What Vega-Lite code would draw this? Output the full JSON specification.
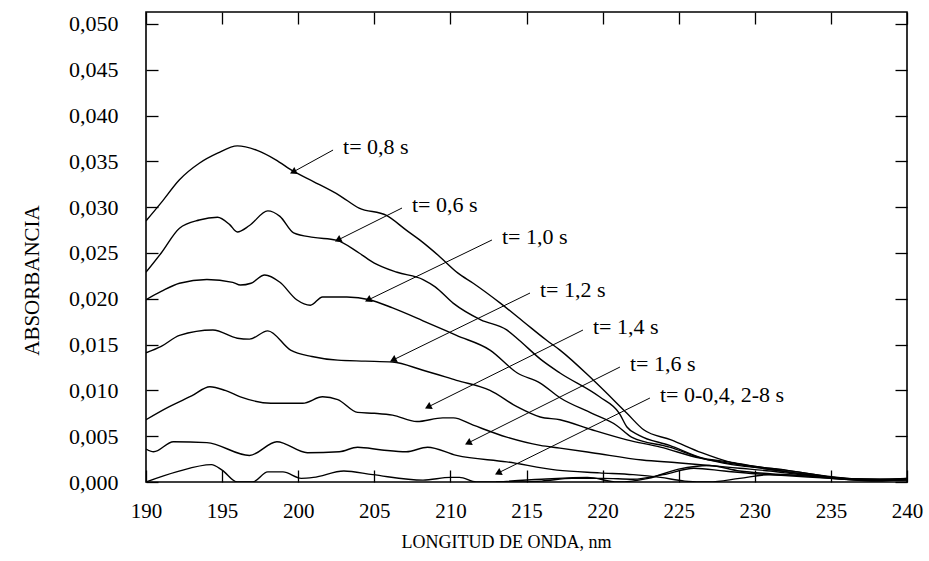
{
  "$schema": "https://vega.github.io/schema/vega-lite/v6.json",
  "width": 761,
  "height": 470,
  "autosize": "none",
  "padding": {"left": 146, "top": 12, "right": 22, "bottom": 79},
  "background": "white",
  "config": {
    "font": "Liberation Serif",
    "view": {"stroke": "black", "strokeWidth": 1.6},
    "axis": {
      "domain": false, "tickColor": "black", "tickWidth": 1.3, "tickSize": 12, "offset": -12,
      "grid": false, "labelColor": "black", "titleColor": "black",
      "labelFont": "Liberation Serif", "titleFont": "Liberation Serif",
      "labelFontSize": 21, "titleFontSize": 19, "titleFontWeight": "normal"
    }
  },
  "datasets": {
    "curves": [
      {"s":"0.8","x":190,"y":0.0285},{"s":"0.8","x":191,"y":0.0305},{"s":"0.8","x":192.2,"y":0.0330},{"s":"0.8","x":193.5,"y":0.0348},{"s":"0.8","x":194.7,"y":0.0359},{"s":"0.8","x":196,"y":0.0367},{"s":"0.8","x":197.3,"y":0.0362},{"s":"0.8","x":198.5,"y":0.0352},{"s":"0.8","x":199.7,"y":0.0339},{"s":"0.8","x":201,"y":0.0328},{"s":"0.8","x":202.7,"y":0.0313},{"s":"0.8","x":204,"y":0.0299},{"s":"0.8","x":205.8,"y":0.0291},{"s":"0.8","x":207.1,"y":0.0275},{"s":"0.8","x":208,"y":0.0264},{"s":"0.8","x":209.3,"y":0.0246},{"s":"0.8","x":210.5,"y":0.0228},{"s":"0.8","x":211.5,"y":0.0217},{"s":"0.8","x":213.3,"y":0.0195},{"s":"0.8","x":214.8,"y":0.0175},{"s":"0.8","x":216.3,"y":0.0155},{"s":"0.8","x":217.2,"y":0.0144},{"s":"0.8","x":219.4,"y":0.0111},{"s":"0.8","x":221.6,"y":0.0075},{"s":"0.8","x":222.7,"y":0.0057},{"s":"0.8","x":224.5,"y":0.0046},{"s":"0.8","x":226.5,"y":0.0032},{"s":"0.8","x":228.3,"y":0.0022},{"s":"0.8","x":230.5,"y":0.0016},{"s":"0.8","x":232,"y":0.0013},{"s":"0.8","x":234,"y":0.0008},{"s":"0.8","x":236,"y":0.0004},{"s":"0.8","x":238,"y":0.0002},{"s":"0.8","x":240,"y":0.0003},
      {"s":"0.6","x":190,"y":0.0229},{"s":"0.6","x":191,"y":0.0250},{"s":"0.6","x":192.2,"y":0.0277},{"s":"0.6","x":193.5,"y":0.0286},{"s":"0.6","x":194.7,"y":0.0289},{"s":"0.6","x":195.5,"y":0.0281},{"s":"0.6","x":196,"y":0.0273},{"s":"0.6","x":196.8,"y":0.0280},{"s":"0.6","x":198,"y":0.0296},{"s":"0.6","x":198.8,"y":0.0290},{"s":"0.6","x":199.7,"y":0.0272},{"s":"0.6","x":201,"y":0.0267},{"s":"0.6","x":202.5,"y":0.0264},{"s":"0.6","x":204,"y":0.0250},{"s":"0.6","x":205,"y":0.0239},{"s":"0.6","x":206.5,"y":0.0229},{"s":"0.6","x":208.2,"y":0.0221},{"s":"0.6","x":209,"y":0.0213},{"s":"0.6","x":210.2,"y":0.0195},{"s":"0.6","x":212,"y":0.0177},{"s":"0.6","x":213.7,"y":0.0166},{"s":"0.6","x":214.5,"y":0.0155},{"s":"0.6","x":216,"y":0.0133},{"s":"0.6","x":217.2,"y":0.0119},{"s":"0.6","x":219.8,"y":0.0093},{"s":"0.6","x":221.1,"y":0.0075},{"s":"0.6","x":221.6,"y":0.0060},{"s":"0.6","x":222.4,"y":0.0051},{"s":"0.6","x":224.4,"y":0.0040},{"s":"0.6","x":226.6,"y":0.0026},{"s":"0.6","x":228.3,"y":0.0022},{"s":"0.6","x":230,"y":0.0017},{"s":"0.6","x":232,"y":0.0013},{"s":"0.6","x":234,"y":0.0008},{"s":"0.6","x":236,"y":0.0003},{"s":"0.6","x":238,"y":0.0002},{"s":"0.6","x":240,"y":0.0004},
      {"s":"1.0","x":190,"y":0.0199},{"s":"1.0","x":191,"y":0.0208},{"s":"1.0","x":192.2,"y":0.0217},{"s":"1.0","x":194,"y":0.0221},{"s":"1.0","x":195.7,"y":0.0218},{"s":"1.0","x":196.2,"y":0.0215},{"s":"1.0","x":196.9,"y":0.0217},{"s":"1.0","x":197.8,"y":0.0226},{"s":"1.0","x":198.8,"y":0.0218},{"s":"1.0","x":199.9,"y":0.0199},{"s":"1.0","x":200.8,"y":0.0193},{"s":"1.0","x":201.6,"y":0.0202},{"s":"1.0","x":203.2,"y":0.0202},{"s":"1.0","x":204.7,"y":0.0199},{"s":"1.0","x":206.2,"y":0.0190},{"s":"1.0","x":208.2,"y":0.0176},{"s":"1.0","x":210.4,"y":0.0160},{"s":"1.0","x":212.6,"y":0.0144},{"s":"1.0","x":214.4,"y":0.0119},{"s":"1.0","x":215.9,"y":0.0108},{"s":"1.0","x":217.2,"y":0.0092},{"s":"1.0","x":219.3,"y":0.0075},{"s":"1.0","x":220.9,"y":0.0062},{"s":"1.0","x":221.9,"y":0.0049},{"s":"1.0","x":224.4,"y":0.0038},{"s":"1.0","x":226.5,"y":0.0026},{"s":"1.0","x":228.5,"y":0.0019},{"s":"1.0","x":230.5,"y":0.0015},{"s":"1.0","x":233,"y":0.0009},{"s":"1.0","x":236,"y":0.0003},{"s":"1.0","x":238,"y":0.0001},{"s":"1.0","x":240,"y":0.0003},
      {"s":"1.2","x":190,"y":0.0141},{"s":"1.2","x":191,"y":0.0148},{"s":"1.2","x":192.2,"y":0.0160},{"s":"1.2","x":194.4,"y":0.0166},{"s":"1.2","x":196,"y":0.0157},{"s":"1.2","x":196.8,"y":0.0156},{"s":"1.2","x":198,"y":0.0165},{"s":"1.2","x":199.5,"y":0.0144},{"s":"1.2","x":200.9,"y":0.0137},{"s":"1.2","x":202.6,"y":0.0133},{"s":"1.2","x":204.4,"y":0.0132},{"s":"1.2","x":206.2,"y":0.0131},{"s":"1.2","x":208.2,"y":0.0122},{"s":"1.2","x":210.4,"y":0.0111},{"s":"1.2","x":212.6,"y":0.0100},{"s":"1.2","x":214.4,"y":0.0082},{"s":"1.2","x":215.9,"y":0.0071},{"s":"1.2","x":217.2,"y":0.0068},{"s":"1.2","x":219.3,"y":0.0057},{"s":"1.2","x":221.6,"y":0.0046},{"s":"1.2","x":223.8,"y":0.0038},{"s":"1.2","x":226.4,"y":0.0026},{"s":"1.2","x":228.5,"y":0.0020},{"s":"1.2","x":230.5,"y":0.0015},{"s":"1.2","x":233,"y":0.0009},{"s":"1.2","x":236,"y":0.0004},{"s":"1.2","x":240,"y":0.0002},
      {"s":"1.4","x":190,"y":0.0068},{"s":"1.4","x":191.5,"y":0.0082},{"s":"1.4","x":193,"y":0.0094},{"s":"1.4","x":194.2,"y":0.0104},{"s":"1.4","x":195.2,"y":0.0100},{"s":"1.4","x":196.2,"y":0.0093},{"s":"1.4","x":198.2,"y":0.0086},{"s":"1.4","x":200.3,"y":0.0086},{"s":"1.4","x":201.6,"y":0.0093},{"s":"1.4","x":202.6,"y":0.0090},{"s":"1.4","x":203.9,"y":0.0076},{"s":"1.4","x":205,"y":0.0075},{"s":"1.4","x":206.2,"y":0.0073},{"s":"1.4","x":207.8,"y":0.0066},{"s":"1.4","x":209.5,"y":0.0070},{"s":"1.4","x":210.2,"y":0.0070},{"s":"1.4","x":211.5,"y":0.0062},{"s":"1.4","x":213.7,"y":0.0049},{"s":"1.4","x":215.9,"y":0.0040},{"s":"1.4","x":217.2,"y":0.0037},{"s":"1.4","x":219.3,"y":0.0032},{"s":"1.4","x":222.6,"y":0.0024},{"s":"1.4","x":224.9,"y":0.0021},{"s":"1.4","x":227,"y":0.0018},{"s":"1.4","x":229,"y":0.0015},{"s":"1.4","x":231,"y":0.0012},{"s":"1.4","x":233,"y":0.0008},{"s":"1.4","x":236,"y":0.0004},{"s":"1.4","x":240,"y":0.0002},
      {"s":"1.6","x":190,"y":0.0036},{"s":"1.6","x":190.5,"y":0.0033},{"s":"1.6","x":191.8,"y":0.0044},{"s":"1.6","x":194,"y":0.0043},{"s":"1.6","x":196.8,"y":0.0029},{"s":"1.6","x":198.6,"y":0.0044},{"s":"1.6","x":200.6,"y":0.0032},{"s":"1.6","x":202.7,"y":0.0033},{"s":"1.6","x":203.9,"y":0.0038},{"s":"1.6","x":205.5,"y":0.0035},{"s":"1.6","x":207.1,"y":0.0033},{"s":"1.6","x":208.5,"y":0.0038},{"s":"1.6","x":210.4,"y":0.0029},{"s":"1.6","x":213.7,"y":0.0022},{"s":"1.6","x":217,"y":0.0013},{"s":"1.6","x":219.8,"y":0.0010},{"s":"1.6","x":222,"y":0.0008},{"s":"1.6","x":223.8,"y":0.0005},{"s":"1.6","x":225.4,"y":0.0001},{"s":"1.6","x":227,"y":0.0000},{"s":"1.6","x":229,"y":0.0004},{"s":"1.6","x":231,"y":0.0008},{"s":"1.6","x":233,"y":0.0007},{"s":"1.6","x":236,"y":0.0003},{"s":"1.6","x":240,"y":0.0003},
      {"s":"b1","x":190,"y":0.0000},{"s":"b1","x":192,"y":0.0011},{"s":"b1","x":194.3,"y":0.0019},{"s":"b1","x":195,"y":0.0013},{"s":"b1","x":196,"y":0.0000},{"s":"b1","x":197,"y":0.0000},{"s":"b1","x":198,"y":0.0011},{"s":"b1","x":199,"y":0.0011},{"s":"b1","x":200.2,"y":0.0004},{"s":"b1","x":201,"y":0.0005},{"s":"b1","x":203,"y":0.0012},{"s":"b1","x":204.9,"y":0.0008},{"s":"b1","x":208.2,"y":0.0002},{"s":"b1","x":210,"y":0.0005},{"s":"b1","x":210.6,"y":0.0005},{"s":"b1","x":211.7,"y":0.0000},{"s":"b1","x":214,"y":0.0000},{"s":"b1","x":216,"y":0.0001},{"s":"b1","x":218,"y":0.0004},{"s":"b1","x":220,"y":0.0004},{"s":"b1","x":222,"y":0.0003},{"s":"b1","x":224,"y":0.0008},{"s":"b1","x":226,"y":0.0015},{"s":"b1","x":228,"y":0.0012},{"s":"b1","x":230,"y":0.0009},{"s":"b1","x":232,"y":0.0007},{"s":"b1","x":235,"y":0.0004},{"s":"b1","x":237,"y":0.0002},{"s":"b1","x":240,"y":0.0003},
      {"s":"b2","x":213,"y":0.0000},{"s":"b2","x":216,"y":0.0003},{"s":"b2","x":219,"y":0.0005},{"s":"b2","x":221,"y":0.0000},{"s":"b2","x":223,"y":0.0004},{"s":"b2","x":225,"y":0.0014},{"s":"b2","x":227,"y":0.0018},{"s":"b2","x":229,"y":0.0012},{"s":"b2","x":231,"y":0.0009},{"s":"b2","x":234,"y":0.0006},{"s":"b2","x":237,"y":0.0003},{"s":"b2","x":240,"y":0.0004}
    ],
    "arrows": [
      {"label":"t= 0,8 s","x1":202.29,"y1":0.03624,"x2":199.66,"y2":0.03384},
      {"label":"t= 0,6 s","x1":206.82,"y1":0.02991,"x2":202.61,"y2":0.02642},
      {"label":"t= 1,0 s","x1":212.73,"y1":0.02642,"x2":204.59,"y2":0.01987},
      {"label":"t= 1,2 s","x1":215.23,"y1":0.02063,"x2":206.23,"y2":0.01332},
      {"label":"t= 1,4 s","x1":218.71,"y1":0.01659,"x2":208.53,"y2":0.00819},
      {"label":"t= 1,6 s","x1":221.14,"y1":0.01255,"x2":211.16,"y2":0.00426},
      {"label":"t= 0-0,4, 2-8 s","x1":223.11,"y1":0.00917,"x2":213.13,"y2":0.00098}
    ]
  },
  "layer": [
    {
      "data": {"name": "curves"},
      "mark": {"type": "line", "color": "black", "strokeWidth": 1.4, "interpolate": "monotone", "clip": true},
      "encoding": {
        "x": {"field": "x", "type": "quantitative", "scale": {"domain": [190, 240], "nice": false, "zero": false},
          "axis": {"orient": "bottom", "values": [190,195,200,205,210,215,220,225,230,235,240], "labelPadding": 18, "title": "LONGITUD DE ONDA, nm", "titleFontSize": 18, "titlePadding": 12, "titleX": 360, "labelFlush": false}},
        "y": {"field": "y", "type": "quantitative", "scale": {"domain": [0, 0.05131], "nice": false},
          "axis": {"orient": "left", "values": [0,0.005,0.01,0.015,0.02,0.025,0.03,0.035,0.04,0.045,0.05], "labelPadding": 28, "labelFontSize": 22, "labelExpr": "replace(format(datum.value, '.3f'), '.', ',')", "title": "ABSORBANCIA", "titleFontSize": 21, "titlePadding": 26, "titleY": 268}},
        "detail": {"field": "s"}
      }
    },
    {
      "data": {"name": "arrows"},
      "mark": {"type": "rule", "color": "black", "strokeWidth": 1},
      "encoding": {
        "x": {"field": "x1", "type": "quantitative", "scale": {"domain": [190, 240], "nice": false, "zero": false},
          "axis": {"orient": "top", "values": [190,195,200,205,210,215,220,225,230,235,240], "labels": false, "title": null}},
        "y": {"field": "y1", "type": "quantitative", "scale": {"domain": [0, 0.05131], "nice": false},
          "axis": {"orient": "right", "values": [0,0.005,0.01,0.015,0.02,0.025,0.03,0.035,0.04,0.045,0.05], "labels": false, "title": null}},
        "x2": {"field": "x2"},
        "y2": {"field": "y2"}
      }
    },
    {
      "data": {"name": "arrows"},
      "mark": {"type": "point", "shape": "triangle-left", "filled": true, "color": "black", "opacity": 1, "size": 60, "angle": 333.5},
      "encoding": {
        "x": {"field": "x2", "type": "quantitative", "scale": {"domain": [190, 240], "nice": false, "zero": false}, "axis": null},
        "y": {"field": "y2", "type": "quantitative", "scale": {"domain": [0, 0.05131], "nice": false}, "axis": null}
      }
    },
    {
      "data": {"name": "arrows"},
      "mark": {"type": "text", "align": "left", "baseline": "middle", "dx": 10, "dy": -3, "fontSize": 22, "font": "Liberation Serif", "color": "black"},
      "encoding": {
        "x": {"field": "x1", "type": "quantitative", "scale": {"domain": [190, 240], "nice": false, "zero": false}, "axis": null},
        "y": {"field": "y1", "type": "quantitative", "scale": {"domain": [0, 0.05131], "nice": false}, "axis": null},
        "text": {"field": "label"}
      }
    }
  ],
  "resolve": {"axis": {"x": "independent", "y": "independent"}}
}
